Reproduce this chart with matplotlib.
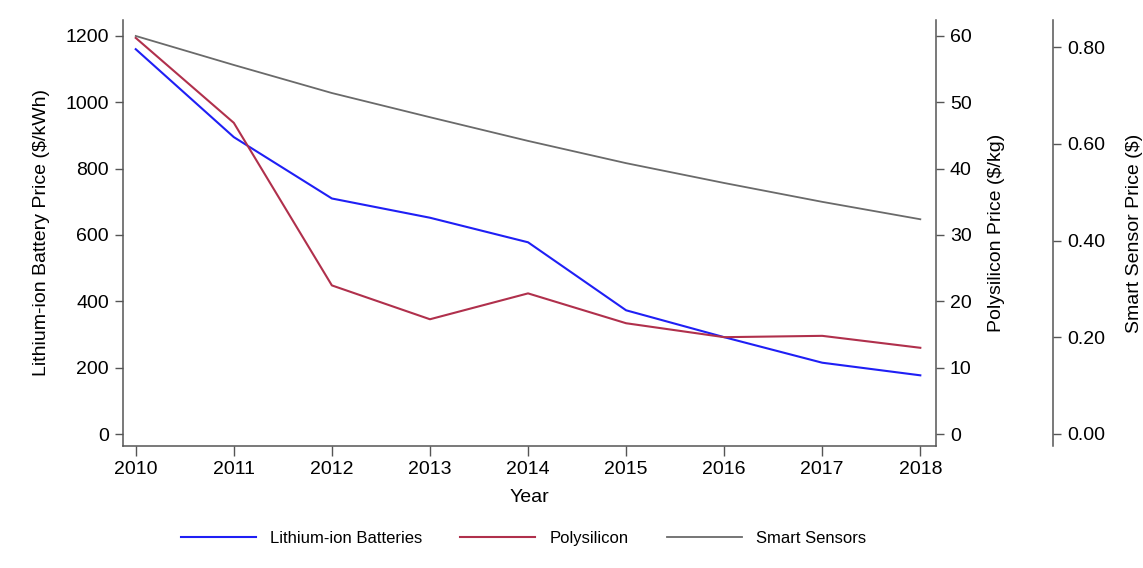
import numpy as np
import matplotlib
matplotlib.use('Agg')
import matplotlib.pyplot as plt
from matplotlib.ticker import FormatStrFormatter

plt.rcParams['font.family'] = ['Liberation Sans', 'DejaVu Sans']

years = [2010, 2011, 2012, 2013, 2014, 2015, 2016, 2017, 2018]
battery = [1160, 895, 710, 652, 578, 373, 292, 215, 177]
polysilicon = [59.7, 46.9, 22.4, 17.3, 21.2, 16.7, 14.6, 14.8, 13.0]
sensors = [0.823, 0.763, 0.705, 0.655, 0.606, 0.560, 0.519, 0.480, 0.444]

c_blue = '#1f1ff5'
c_red = '#b0304c'
c_gray = '#6a6a6a'
spine_c = '#555555'

fig = plt.figure(figsize=(11.43, 5.68), dpi=100)
ax = fig.add_axes([0.1076, 0.2148, 0.7113, 0.75])
ax2 = ax.twinx()
ax3 = ax.twinx()

l1, = ax.plot(years, battery, color=c_blue, lw=1.5, label='Lithium-ion Batteries')
l2, = ax2.plot(years, polysilicon, color=c_red, lw=1.5, label='Polysilicon')
l3, = ax3.plot(years, sensors, color=c_gray, lw=1.3, label='Smart Sensors')

ax.set_xlim(2009.87, 2018.16)
ax.set_ylim(-36, 1248)
ax2.set_ylim(-1.8, 62.4)
ax3.set_ylim(-0.0248, 0.856)

ax.set_xticks(years)
ax.set_yticks([0, 200, 400, 600, 800, 1000, 1200])
ax2.set_yticks([0, 10, 20, 30, 40, 50, 60])
ax3.set_yticks([0, 0.2, 0.4, 0.6, 0.8])
ax3.yaxis.set_major_formatter(FormatStrFormatter('%.2f'))

for a in (ax, ax2, ax3):
    for s in a.spines.values():
        s.set_visible(False)
    a.tick_params(colors='black', labelsize=14, length=6, width=1, direction='out', pad=4)
    a.tick_params(axis='both', color=spine_c)
ax.tick_params(axis='x', length=7, pad=4)

ax.spines['left'].set_visible(True)
ax.spines['bottom'].set_visible(True)
ax2.spines['right'].set_visible(True)
ax3.spines['right'].set_visible(True)
ax3.spines['right'].set_position(('axes', 1.144))
for s in (ax.spines['left'], ax.spines['bottom'], ax2.spines['right'], ax3.spines['right']):
    s.set_color(spine_c)
    s.set_linewidth(1.1)

ax.set_xlabel('Year', fontsize=14, labelpad=8)
ax.set_ylabel('Lithium-ion Battery Price (\\$/kWh)', fontsize=14, labelpad=11)
ax2.set_ylabel('Polysilicon Price (\\$/kg)', fontsize=14, labelpad=12)
ax3.set_ylabel('Smart Sensor Price (\\$)', fontsize=14, labelpad=15)

fig.legend(handles=[l1, l2, l3], loc='center', bbox_to_anchor=(0.458, 0.052),
           ncol=3, frameon=False, fontsize=12, handlelength=4.5,
           columnspacing=2.3, handletextpad=0.85)

fig.savefig('out.png', dpi=100, facecolor='white')
